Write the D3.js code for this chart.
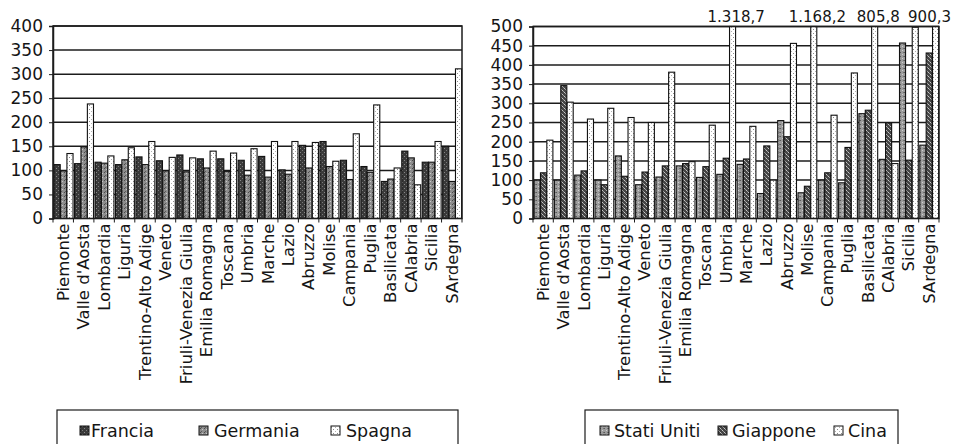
<!DOCTYPE html>
<html><head><meta charset="utf-8">
<script src="https://cdn.jsdelivr.net/npm/d3@7"></script>
<style>
body{margin:0;background:#fff;}
svg{display:block;}
text{font-family:"DejaVu Sans",sans-serif;fill:#151515;}
</style></head><body>
<svg id="c" width="954" height="444"></svg>
<script>
const regions = ["Piemonte","Valle d'Aosta","Lombardia","Liguria","Trentino-Alto Adige","Veneto","Friuli-Venezia Giulia","Emilia Romagna","Toscana","Umbria","Marche","Lazio","Abruzzo","Molise","Campania","Puglia","Basilicata","CAlabria","Sicilia","SArdegna"];

const leftSeries = ["Francia","Germania","Spagna"];
const francia  = [112,114,117,112,128,120,132,124,124,121,129,101,152,160,121,108,77,140,117,150];
const germania = [99,149,115,122,112,99,97,105,98,90,86,92,105,108,81,96,82,126,117,77];
const spagna   = [135,238,130,147,160,127,126,140,136,145,160,160,158,119,176,236,105,70,160,311];
const leftTicks = [0,50,100,150,200,250,300,350,400];

const rightSeries = ["Stati Uniti","Giappone","Cina"];
const statiUniti = [100,100,113,100,163,88,108,137,107,115,141,65,255,67,100,93,273,154,457,191];
const giappone   = [119,346,124,88,110,121,137,143,135,157,155,189,213,84,119,185,282,249,152,431];
const cina       = [204,303,259,287,263,250,381,148,243,1318.7,240,100,456,1168.2,269,379,805.8,143,498,900.3];
const rightTicks = [0,50,100,150,200,250,300,350,400,450,500];

const svg = d3.select("#c");
const defs = svg.append("defs");

function pattern(id, bg, dots, size){
  const p = defs.append("pattern").attr("id", id).attr("patternUnits","userSpaceOnUse")
    .attr("width", size).attr("height", size);
  p.append("rect").attr("width", size).attr("height", size).attr("fill", bg);
  dots.forEach(d => p.append("rect").attr("x", d[0]).attr("y", d[1]).attr("width",1).attr("height",1).attr("fill", d[2]));
}
pattern("pFr", "#3a3a3a", [[0,0,"#8a8a8a"],[2,2,"#7a7a7a"]], 4);
pattern("pDe", "#8e8e8e", [[0,0,"#4a4a4a"],[2,1,"#c8c8c8"],[1,3,"#5a5a5a"]], 4);
pattern("pWh", "#ffffff", [[1,1,"#8a8a8a"],[3,3,"#b0b0b0"]], 4);
pattern("pUS", "#9c9c9c", [[0,0,"#5a5a5a"],[2,2,"#d0d0d0"],[3,0,"#707070"]], 4);
pattern("pJP", "#454545", [[0,0,"#c8c8c8"],[1,1,"#9a9a9a"],[2,2,"#c8c8c8"],[3,3,"#9a9a9a"]], 4);

const leftFills = ["url(#pFr)","url(#pDe)","url(#pWh)"];
const rightFills = ["url(#pUS)","url(#pJP)","url(#pWh)"];

const itFmt = d3.formatLocale({decimal:",", thousands:".", grouping:[3], currency:["€",""]}).format(",.1f");

function drawChart(cfg){
  const {x0, x1, yTop, yBottom, max, ticks, series, values, fills} = cfg;
  const g = svg.append("g");
  const y = d3.scaleLinear().domain([0, max]).range([yBottom, yTop]).clamp(true);
  const xb = d3.scaleBand().domain(regions).range([x0, x1]).paddingInner(0.06).paddingOuter(0.03);
  const xs = d3.scaleBand().domain(series).range([0, xb.bandwidth()]);

  // gridlines
  g.append("g").selectAll("line").data(ticks.filter(t => t > 0)).join("line")
    .attr("x1", x0).attr("x2", x1).attr("y1", d => y(d)).attr("y2", d => y(d))
    .attr("stroke", "#1c1c1c").attr("stroke-width", 1.5);

  // bars
  series.forEach((s, si) => {
    g.append("g").selectAll("rect").data(values[si]).join("rect")
      .attr("x", (d, i) => xb(regions[i]) + xs(s) + 0.5)
      .attr("y", d => y(d))
      .attr("width", xs.bandwidth() - 0.3)
      .attr("height", d => yBottom - y(d))
      .attr("fill", fills[si])
      .attr("stroke", "#111").attr("stroke-width", 1.1);
  });

  // labels for values above max
  series.forEach((s, si) => {
    g.append("g").selectAll("text").data(values[si].map((v, i) => ({v, i})).filter(d => d.v > max)).join("text")
      .attr("x", d => xb(regions[d.i]) + xs(s) + xs.bandwidth() / 2 + 4)
      .attr("y", yTop - 5)
      .attr("text-anchor", "middle")
      .attr("font-size", 15)
      .text(d => itFmt(d.v))
      .each(function(){
        const w = this.getComputedTextLength();
        const cx = +this.getAttribute("x");
        if (cx + w / 2 > 951) this.setAttribute("x", 951 - w / 2);
      });
  });

  // frame
  g.append("rect").attr("x", x0).attr("y", yTop).attr("width", x1 - x0).attr("height", yBottom - yTop)
    .attr("fill", "none").attr("stroke", "#1c1c1c").attr("stroke-width", 1.5);

  // y axis
  const ya = g.append("g").attr("transform", `translate(${x0},0)`)
    .call(d3.axisLeft(y).tickValues(ticks).tickSize(4).tickPadding(6).tickFormat(d3.format("d")));
  ya.select(".domain").attr("stroke", "#1c1c1c").attr("stroke-width", 1.5);
  ya.selectAll(".tick line").attr("stroke", "#1c1c1c");
  ya.selectAll("text").attr("font-size", 17).attr("fill", "#151515").attr("font-family", '"DejaVu Sans",sans-serif');

  // x ticks at category boundaries
  const bounds = d3.range(regions.length + 1).map(i => x0 + (x1 - x0) * i / regions.length);
  g.append("g").selectAll("line").data(bounds).join("line")
    .attr("x1", d => d).attr("x2", d => d).attr("y1", yBottom).attr("y2", yBottom + 4)
    .attr("stroke", "#1c1c1c");

  // category labels
  g.append("g").selectAll("text").data(regions).join("text")
    .attr("transform", d => `translate(${xb(d) + xb.bandwidth() / 2},${yBottom + 5}) rotate(-90)`)
    .attr("text-anchor", "end").attr("dy", "0.35em")
    .attr("font-size", 16.5)
    .text(d => d);
}

drawChart({x0: 53, x1: 462, yTop: 26, yBottom: 218.5, max: 400, ticks: leftTicks,
  series: leftSeries, values: [francia, germania, spagna], fills: leftFills});
drawChart({x0: 533, x1: 939, yTop: 26.5, yBottom: 218.5, max: 500, ticks: rightTicks,
  series: rightSeries, values: [statiUniti, giappone, cina], fills: rightFills});

// legends
function legend(x, w, names, fills, offsets, gaps){
  const g = svg.append("g");
  g.append("rect").attr("x", x).attr("y", 410).attr("width", w).attr("height", 45)
    .attr("fill", "#fff").attr("stroke", "#1c1c1c").attr("stroke-width", 1.2);
  names.forEach((n, i) => {
    g.append("rect").attr("x", x + offsets[i]).attr("y", 426).attr("width", 9).attr("height", 9)
      .attr("fill", fills[i]).attr("stroke", "#111").attr("stroke-width", 1);
    g.append("text").attr("x", x + offsets[i] + gaps[i]).attr("y", 431).attr("dy", "0.35em")
      .attr("font-size", 17.5).text(n);
  });
}
legend(57, 401, leftSeries, leftFills, [23, 142, 274], [11, 15, 15]);
legend(585, 313, rightSeries, rightFills, [15, 133, 249], [14, 14, 14]);
</script>
</body></html>
